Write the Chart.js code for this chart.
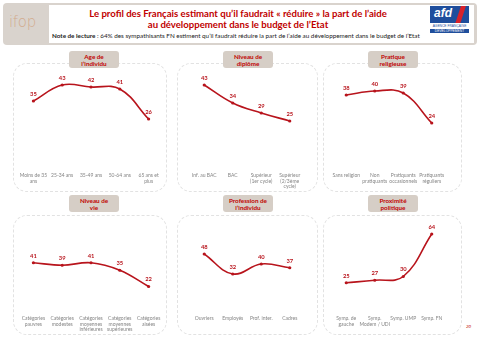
<!DOCTYPE html>
<html><head><meta charset="utf-8">
<script src="https://cdn.jsdelivr.net/npm/chart.js@4/dist/chart.umd.min.js"></script>
<style>
body{margin:0;width:480px;height:338px;background:#fff;position:relative;overflow:hidden;font-family:Lato,"Liberation Sans",sans-serif}
.abs{position:absolute}
.hdr{left:3px;top:3px;width:474px;height:42px;background:#d9d3cd;border-radius:4px}
.white{left:49px;top:5px;width:425px;height:38px;background:#fff}
.ifop{left:9px;top:13px;font-size:15px;color:#d2ab8e;font-family:"DejaVu Sans";font-weight:200;letter-spacing:-0.3px}
.tt{left:49px;width:378px;text-align:center;color:#c00000;font-weight:bold;font-size:9.6px;white-space:nowrap}
.note{left:52px;top:31.5px;font-size:6.3px;color:#222;white-space:nowrap}
.afdbox{left:430px;top:6px;width:39px;height:17px;background:#1f4e9c;overflow:hidden}
.afdtxt{left:4px;top:0px;color:#fff;font-style:italic;font-weight:bold;font-size:12px;font-family:"Liberation Sans"}
.afdred{left:28px;top:-3px;width:5px;height:24px;background:#d8222a;transform:skewX(-18deg)}
.afdsub{left:430px;width:39px;text-align:center;font-size:3.3px;color:#1f4e9c;white-space:nowrap;font-family:"Liberation Sans"}
.panel{border:1px dashed #e2e2e2;border-radius:14px;box-sizing:border-box}
.badge{background:#d6cec6;border-radius:3px;color:#c00000;font-weight:bold;font-size:6.3px;text-align:center;line-height:7px;box-sizing:border-box;padding-top:1.5px}
canvas{position:absolute}
.pg{left:466px;top:324px;font-size:4.5px;color:#c00000;font-style:italic}
</style>
</head><body>
<div class="abs hdr"></div>
<div class="abs white"></div>
<div class="abs ifop">ifop</div>
<div class="abs tt" style="top:8px">Le profil des Français estimant qu’il faudrait « réduire » la part de l’aide</div>
<div class="abs tt" style="top:18.5px">au développement dans le budget de l’Etat</div>
<div class="abs note"><b>Note de lecture</b> : 64% des sympathisants FN estiment qu’il faudrait réduire la part de l’aide au développement dans le budget de l’Etat</div>
<div class="abs afdbox"><div class="abs afdtxt">afd</div><div class="abs afdred"></div></div>
<div class="abs afdsub" style="top:24px">AGENCE FRANÇAISE</div>
<div class="abs afdsub" style="top:28.5px;background:#1f4e9c;color:#fff;height:4px;line-height:4px">DÉVELOPPEMENT</div>
<div class="abs pg">20</div>
<div id="root"></div>
<script>
// ---- data ----
const panelTitles = [
  ["Age de", "l’individu"],
  ["Niveau de", "diplôme"],
  ["Pratique", "religieuse"],
  ["Niveau de", "vie"],
  ["Profession de", "l’individu"],
  ["Proximité", "politique"]
];
const ageCategories = [["Moins de 35","ans"], "25-34 ans", "35-49 ans", "50-64 ans", ["65 ans et","plus"]];
const ageValues = [35, 43, 42, 41, 26];
const diplomeCategories = ["Inf. au BAC", "BAC", ["Supérieur","(1er cycle)"], ["Supérieur","(2/3ème","cycle)"]];
const diplomeValues = [43, 34, 29, 25];
const religionCategories = ["Sans religion", ["Non","pratiquants"], ["Pratiquants","occasionnels"], ["Pratiquants","réguliers"]];
const religionValues = [38, 40, 39, 24];
const vieCategories = [["Catégories","pauvres"], ["Catégories","modestes"], ["Catégories","moyennes","inférieures"], ["Catégories","moyennes","supérieures"], ["Catégories","aisées"]];
const vieValues = [41, 39, 41, 35, 22];
const professionCategories = ["Ouvriers", "Employés", "Prof. inter.", "Cadres"];
const professionValues = [48, 32, 40, 37];
const politiqueCategories = [["Symp. de","gauche"], ["Symp.","Modem / UDI"], "Symp. UMP", "Symp. FN"];
const politiqueValues = [25, 27, 30, 64];
const axisMaxTop = 50;
const axisMaxBottom = 70;

// ---- layout ----
const RED = '#b8141c';
const panels = [
  {cats: ageCategories, vals: ageValues, max: axisMaxTop, box:[13,63,154,129], badge:[69,51], area:[18.5,144], row:0},
  {cats: diplomeCategories, vals: diplomeValues, max: axisMaxTop, box:[177,63,141,129], badge:[223,51], area:[189.5,114], row:0},
  {cats: religionCategories, vals: religionValues, max: axisMaxTop, box:[323,63,139,129], badge:[368,51], area:[332,114], row:0},
  {cats: vieCategories, vals: vieValues, max: axisMaxBottom, box:[13,215,154,120], badge:[69,195], area:[18.5,144], row:1},
  {cats: professionCategories, vals: professionValues, max: axisMaxBottom, box:[177,215,141,120], badge:[223,195], area:[189.5,114], row:1},
  {cats: politiqueCategories, vals: politiqueValues, max: axisMaxBottom, box:[323,215,139,120], badge:[368,195], area:[332,114], row:1}
];
const rows = [
  {canvasTop:62, areaTop:71, areaBottom:171, canvasBottom:192},
  {canvasTop:214, areaTop:226.5, areaBottom:314, canvasBottom:335}
];

const valueLabels = {
  id:'valueLabels',
  afterDatasetsDraw(chart){
    const ctx = chart.ctx, meta = chart.getDatasetMeta(0), data = chart.data.datasets[0].data;
    ctx.save();
    ctx.font = 'bold 5.8px Lato';
    ctx.fillStyle = RED;
    ctx.textAlign = 'center';
    ctx.textBaseline = 'middle';
    meta.data.forEach((pt, i) => ctx.fillText(String(data[i]), pt.x, pt.y - 7));
    ctx.restore();
  }
};

const root = document.getElementById('root');
panels.forEach((p, idx) => {
  const box = document.createElement('div');
  box.className = 'abs panel';
  Object.assign(box.style, {left:p.box[0]+'px', top:p.box[1]+'px', width:p.box[2]+'px', height:p.box[3]+'px'});
  root.appendChild(box);

  const r = rows[p.row];
  const padX = 8;
  const cv = document.createElement('canvas');
  const cl = p.area[0] - padX, cw = p.area[1] + 2*padX;
  const ch = r.canvasBottom - r.canvasTop;
  cv.width = Math.round(cw); cv.height = ch;
  cv.style.left = cl + 'px'; cv.style.top = r.canvasTop + 'px';
  cv.style.width = Math.round(cw) + 'px'; cv.style.height = ch + 'px';
  root.appendChild(cv);

  const badge = document.createElement('div');
  badge.className = 'abs badge';
  Object.assign(badge.style, {left:p.badge[0]+'px', top:p.badge[1]+'px', width:'50px', height:'17px'});
  badge.innerHTML = panelTitles[idx].join('<br>');
  root.appendChild(badge);

  const xH = r.canvasBottom - r.areaBottom;
  new Chart(cv, {
    type:'line',
    data:{labels:p.cats, datasets:[{data:p.vals, borderColor:RED, backgroundColor:RED, borderWidth:1.6,
      tension:0.4, pointRadius:1.6, pointBackgroundColor:RED, pointBorderWidth:0, fill:false}]},
    options:{
      responsive:false, animation:false, devicePixelRatio:1,
      layout:{padding:{left:padX, right:Math.round(cw)-p.area[1]-padX, top:r.areaTop - r.canvasTop, bottom:0}},
      plugins:{legend:{display:false}, tooltip:{enabled:false}},
      scales:{
        x:{offset:true, grid:{display:false, drawTicks:false}, border:{display:false},
           ticks:{autoSkip:false, maxRotation:0, minRotation:0, padding:1.5, color:'#858585',
             font:{family:'Lato', size:5, lineHeight:1.15}},
           afterFit:(s)=>{ s.height = xH; }},
        y:{display:false, min:0, max:p.max}
      }
    },
    plugins:[valueLabels]
  });
});
</script>
</body></html>
